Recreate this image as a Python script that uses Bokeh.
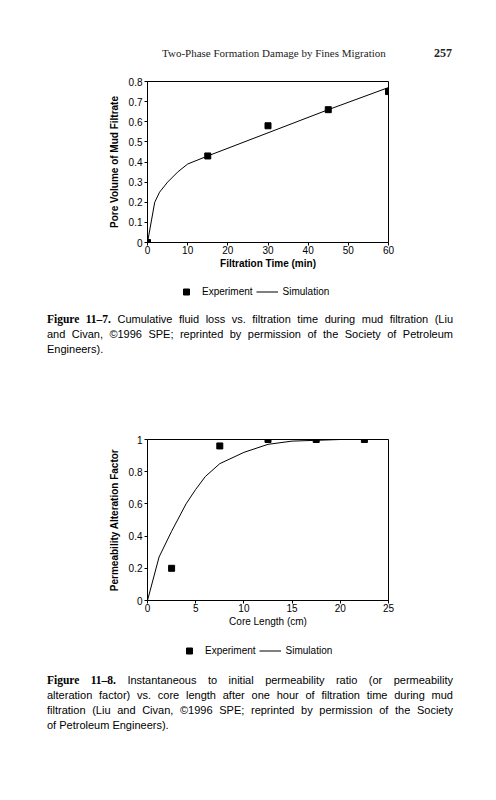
from bokeh.plotting import figure
from bokeh.models import (Div, Legend, LegendItem, FixedTicker,
                          NumeralTickFormatter, Range1d)
from bokeh.layouts import column
from bokeh.embed import file_html
from bokeh.resources import INLINE

# ---------------- Figure 11-7 data ----------------
time_exp = [0, 15, 30, 45, 60]
pv_exp = [0.0, 0.43, 0.58, 0.66, 0.75]
time_sim = [0, 1.8, 3, 5, 7.5, 10, 15, 30, 45, 60]
pv_sim = [0.0, 0.20, 0.25, 0.30, 0.35, 0.39, 0.43, 0.545, 0.66, 0.77]
time_ticks = [0, 10, 20, 30, 40, 50, 60]
pv_ticks = [0, 0.1, 0.2, 0.3, 0.4, 0.5, 0.6, 0.7, 0.8]

# ---------------- Figure 11-8 data ----------------
len_exp = [2.5, 7.5, 12.5, 17.5, 22.5]
paf_exp = [0.2, 0.96, 1.0, 1.0, 1.0]
len_sim = [0, 1.2, 2.5, 4, 5, 6, 7.5, 10, 12.5, 15, 20, 25]
paf_sim = [0.0, 0.27, 0.43, 0.60, 0.69, 0.77, 0.85, 0.92, 0.97, 0.99, 1.0, 1.0]
len_ticks = [0, 5, 10, 15, 20, 25]
paf_ticks = [0, 0.2, 0.4, 0.6, 0.8, 1.0]

legend_labels = ["Experiment", "Simulation"]

header_title = "Two-Phase Formation Damage by Fines Migration"
page_number = "257"
cap1_label = "Figure 11–7."
cap1_lines = [
    " Cumulative fluid loss vs. filtration time during mud filtration (Liu",
    "and Civan, ©1996 SPE; reprinted by permission of the Society of Petroleum",
    "Engineers).",
]
cap2_label = "Figure 11–8."
cap2_lines = [
    " Instantaneous to initial permeability ratio (or permeability",
    "alteration factor) vs. core length after one hour of filtration time during mud",
    "filtration (Liu and Civan, ©1996 SPE; reprinted by permission of the Society",
    "of Petroleum Engineers).",
]

SANS = "Liberation Sans"
SERIF = "Liberation Serif"
W = 488


def make_chart(xe, ye, xs, ys, xr, yr, xt, yt, xlabel, ylabel, xlabel_style,
               left, frame_w, top, frame_h, bottom):
    p = figure(width=W, height=top + frame_h + bottom,
               x_range=Range1d(*xr), y_range=Range1d(*yr),
               output_backend="svg", toolbar_location=None,
               min_border_left=left, min_border_right=W - left - frame_w,
               min_border_top=top, min_border_bottom=bottom)
    p.outline_line_color = "black"
    p.outline_line_width = 1
    p.xgrid.visible = False
    p.ygrid.visible = False

    p.line(xs, ys, line_color="black", line_width=1)
    p.scatter(xe, ye, marker="square", size=6, color="black")

    p.xaxis.ticker = FixedTicker(ticks=xt)
    p.yaxis.ticker = FixedTicker(ticks=yt)
    p.yaxis.formatter = NumeralTickFormatter(format="0.[0]")
    p.xaxis.formatter = NumeralTickFormatter(format="0")
    for ax in (p.xaxis[0], p.yaxis[0]):
        ax.axis_line_color = "black"
        ax.major_tick_line_color = "black"
        ax.major_tick_out = 3
        ax.major_tick_in = 0
        ax.minor_tick_line_color = None
        ax.major_label_text_font = SANS
        ax.major_label_text_font_size = "10px"
        ax.major_label_text_color = "black"
        ax.axis_label_text_font = SANS
        ax.axis_label_text_font_size = "10px"
        ax.axis_label_text_color = "black"
    p.xaxis.axis_label = xlabel
    p.yaxis.axis_label = ylabel
    p.xaxis.axis_label_text_font_style = xlabel_style
    p.yaxis.axis_label_text_font_style = "bold"
    p.xaxis.major_label_standoff = 0
    p.xaxis.axis_label_standoff = 1
    p.yaxis.major_label_standoff = 2
    p.yaxis.axis_label_standoff = 6
    return p


def make_legend_strip(xe, ye, xs, ys, height, lx, ly):
    # A thin strip under a chart that holds its legend.  The legend proxies
    # carry the chart's series but the strip's ranges keep them out of view,
    # so only the legend glyphs and labels show.
    p = figure(width=W, height=height,
               x_range=Range1d(-1000, -999), y_range=Range1d(-1000, -999),
               output_backend="svg", toolbar_location=None,
               x_axis_location=None, y_axis_location=None, min_border=0)
    p.outline_line_color = None
    p.grid.visible = False
    ln = p.line(xs, ys, line_color="black", line_width=1)
    sq = p.scatter(xe, ye, marker="square", size=6, color="black")
    leg = Legend(items=[LegendItem(label=legend_labels[0], renderers=[sq]),
                        LegendItem(label=legend_labels[1], renderers=[ln])],
                 orientation="horizontal", location=(lx, ly),
                 glyph_width=22, glyph_height=15, label_height=15,
                 label_standoff=5, spacing=3, padding=0, margin=0,
                 border_line_color=None, background_fill_alpha=0,
                 label_text_font=SANS, label_text_font_size="10px",
                 label_text_color="black")
    p.add_layout(leg)
    return p


fig1 = make_chart(time_exp, pv_exp, time_sim, pv_sim, (0, 60), (0, 0.8),
                  time_ticks, pv_ticks, "Filtration Time (min)",
                  "Pore Volume of Mud Filtrate", "bold",
                  left=147, frame_w=244, top=11, frame_h=161, bottom=31)
leg1 = make_legend_strip(time_exp, pv_exp, time_sim, pv_sim, 32, 28, 6)
fig2 = make_chart(len_exp, paf_exp, len_sim, paf_sim, (0, 25), (0, 1),
                  len_ticks, paf_ticks, "Core Length (cm)",
                  "Permeability Alteration Factor", "normal",
                  left=146, frame_w=242, top=14, frame_h=161, bottom=31)
leg2 = make_legend_strip(len_exp, paf_exp, len_sim, paf_sim, 34, 31, 7)

header_html = (
    f'<div style="position:relative;width:{W}px;height:70px;font-family:\'{SERIF}\';'
    f'color:#222;">'
    f'<span style="position:absolute;left:162px;top:46px;font-size:11px;white-space:nowrap;">{header_title}</span>'
    f'<span style="position:absolute;left:434px;top:45px;font-size:12px;font-weight:bold;">{page_number}</span>'
    f'</div>'
)
header = Div(text=header_html, width=W, height=70, margin=0)


def caption_html(label, lines, pad_top, line_h):
    rows = []
    for i, t in enumerate(lines):
        last = (i == len(lines) - 1)
        align = "left" if last else "justify"
        content = t
        if i == 0:
            content = (f'<span style="font-family:\'{SERIF}\';font-weight:bold;'
                       f'font-size:11.5px;">{label}</span>{t}')
        rows.append(f'<div style="text-align:{align};text-align-last:{align};'
                    f'height:{line_h}px;line-height:{line_h}px;white-space:nowrap;">{content}</div>')
    return (f'<div style="padding-top:{pad_top}px;margin-left:47px;width:406px;'
            f'font-family:\'{SANS}\';font-size:11px;color:black;">' + "".join(rows) + '</div>')


cap1 = Div(text=caption_html(cap1_label, cap1_lines, 7, 15), width=W, height=120, margin=0)
cap2 = Div(text=caption_html(cap2_label, cap2_lines, 8, 15), width=W, height=127, margin=0)

layout = column(header, fig1, leg1, cap1, fig2, leg2, cap2, spacing=0, margin=0)

with open("out.html", "w") as f:
    f.write(file_html(layout, INLINE))
